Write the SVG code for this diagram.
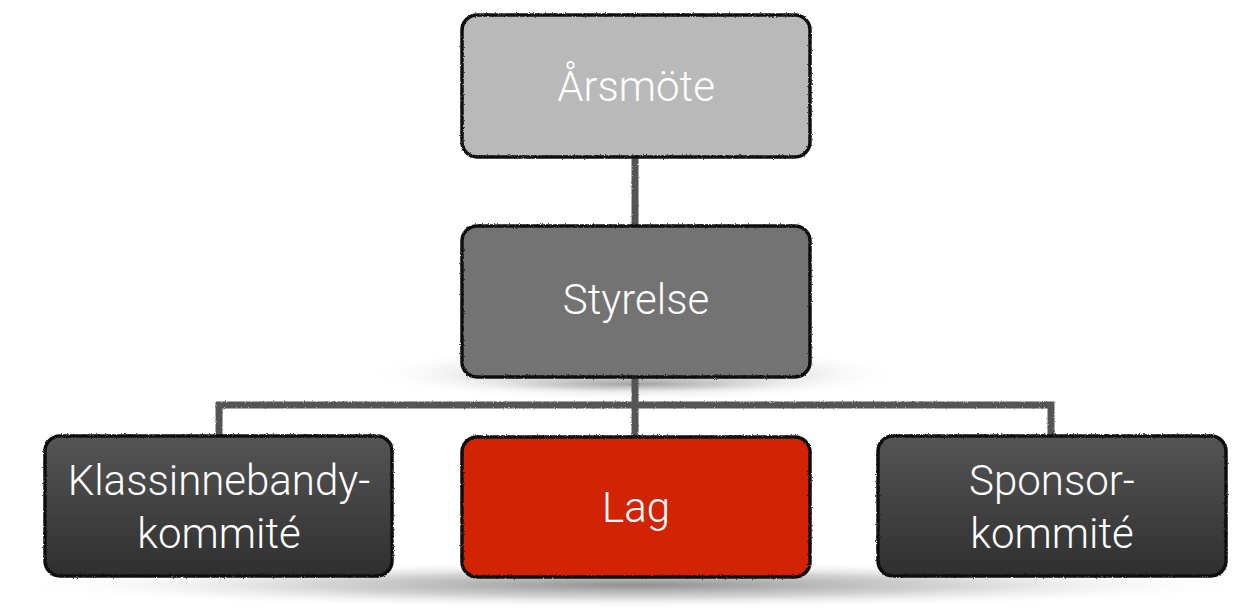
<svg xmlns="http://www.w3.org/2000/svg" width="1247" height="609" viewBox="0 0 1247 609">
  <defs>
    <style>
      .lbl { font-family: Roboto, "Liberation Sans", sans-serif; font-weight: 300; font-size: 42px; fill: #ffffff; text-anchor: middle; }
      .edge { stroke: #555555; stroke-width: 7; fill: none; stroke-linecap: square; }
      .frame { fill: none; stroke: #111111; stroke-width: 3.5; }
    </style>
    <linearGradient id="dark" x1="0" y1="0" x2="0" y2="1">
      <stop offset="0" stop-color="#555555"/>
      <stop offset="1" stop-color="#2f2f2f"/>
    </linearGradient>
    <radialGradient id="shadowG" cx="0.5" cy="0.5" r="0.5">
      <stop offset="0" stop-color="#8f8f8f" stop-opacity="1"/>
      <stop offset="0.5" stop-color="#c8c8c8" stop-opacity="0.8"/>
      <stop offset="1" stop-color="#ffffff" stop-opacity="0"/>
    </radialGradient>
    <filter id="rough" x="-5%" y="-5%" width="110%" height="110%">
      <feTurbulence type="fractalNoise" baseFrequency="0.9" numOctaves="2" seed="3" result="n"/>
      <feDisplacementMap in="SourceGraphic" in2="n" scale="2.5" xChannelSelector="R" yChannelSelector="G"/>
    </filter>
  </defs>
  <rect width="1247" height="609" fill="#ffffff"/>

  <!-- shadows -->
  <g id="shadows">
    <ellipse cx="635" cy="374" rx="270" ry="28" fill="url(#shadowG)" opacity="0.8"/>
    <ellipse cx="635" cy="384" rx="190" ry="10" fill="url(#shadowG)" opacity="0.7"/>
    <ellipse cx="635" cy="585" rx="625" ry="24" fill="url(#shadowG)"/>
  </g>

  <!-- connectors -->
  <g id="connectors" filter="url(#rough)">
    <line class="edge" x1="635" y1="158" x2="635" y2="226"/>
    <line class="edge" x1="635" y1="377" x2="635" y2="437"/>
    <polyline class="edge" points="219,437 219,405 1051,405 1051,437"/>
  </g>

  <g id="arsmote">
    <rect x="462" y="15" width="348" height="142" rx="15" fill="#b9b9b9"/>
    <rect class="frame" x="462" y="15" width="348" height="142" rx="15" filter="url(#rough)"/>
    <text class="lbl" x="636" y="101">Årsmöte</text>
  </g>

  <g id="styrelse">
    <rect x="462" y="226" width="348" height="151" rx="15" fill="#737373"/>
    <rect class="frame" x="462" y="226" width="348" height="151" rx="15" filter="url(#rough)"/>
    <text class="lbl" x="636" y="314">Styrelse</text>
  </g>

  <g id="klassinnebandy">
    <rect x="45" y="436" width="347" height="140" rx="15" fill="url(#dark)"/>
    <rect class="frame" x="45" y="436" width="347" height="140" rx="15" filter="url(#rough)"/>
    <text class="lbl" x="219" y="495">Klassinnebandy-</text>
    <text class="lbl" x="219" y="548">kommité</text>
  </g>

  <g id="lag">
    <rect x="462" y="437" width="348" height="140" rx="15" fill="#d22405"/>
    <rect class="frame" x="462" y="437" width="348" height="140" rx="15" filter="url(#rough)"/>
    <text class="lbl" x="636" y="522">Lag</text>
  </g>

  <g id="sponsor">
    <rect x="878" y="436" width="348" height="140" rx="15" fill="url(#dark)"/>
    <rect class="frame" x="878" y="436" width="348" height="140" rx="15" filter="url(#rough)"/>
    <text class="lbl" x="1052" y="495">Sponsor-</text>
    <text class="lbl" x="1052" y="548">kommité</text>
  </g>
</svg>
